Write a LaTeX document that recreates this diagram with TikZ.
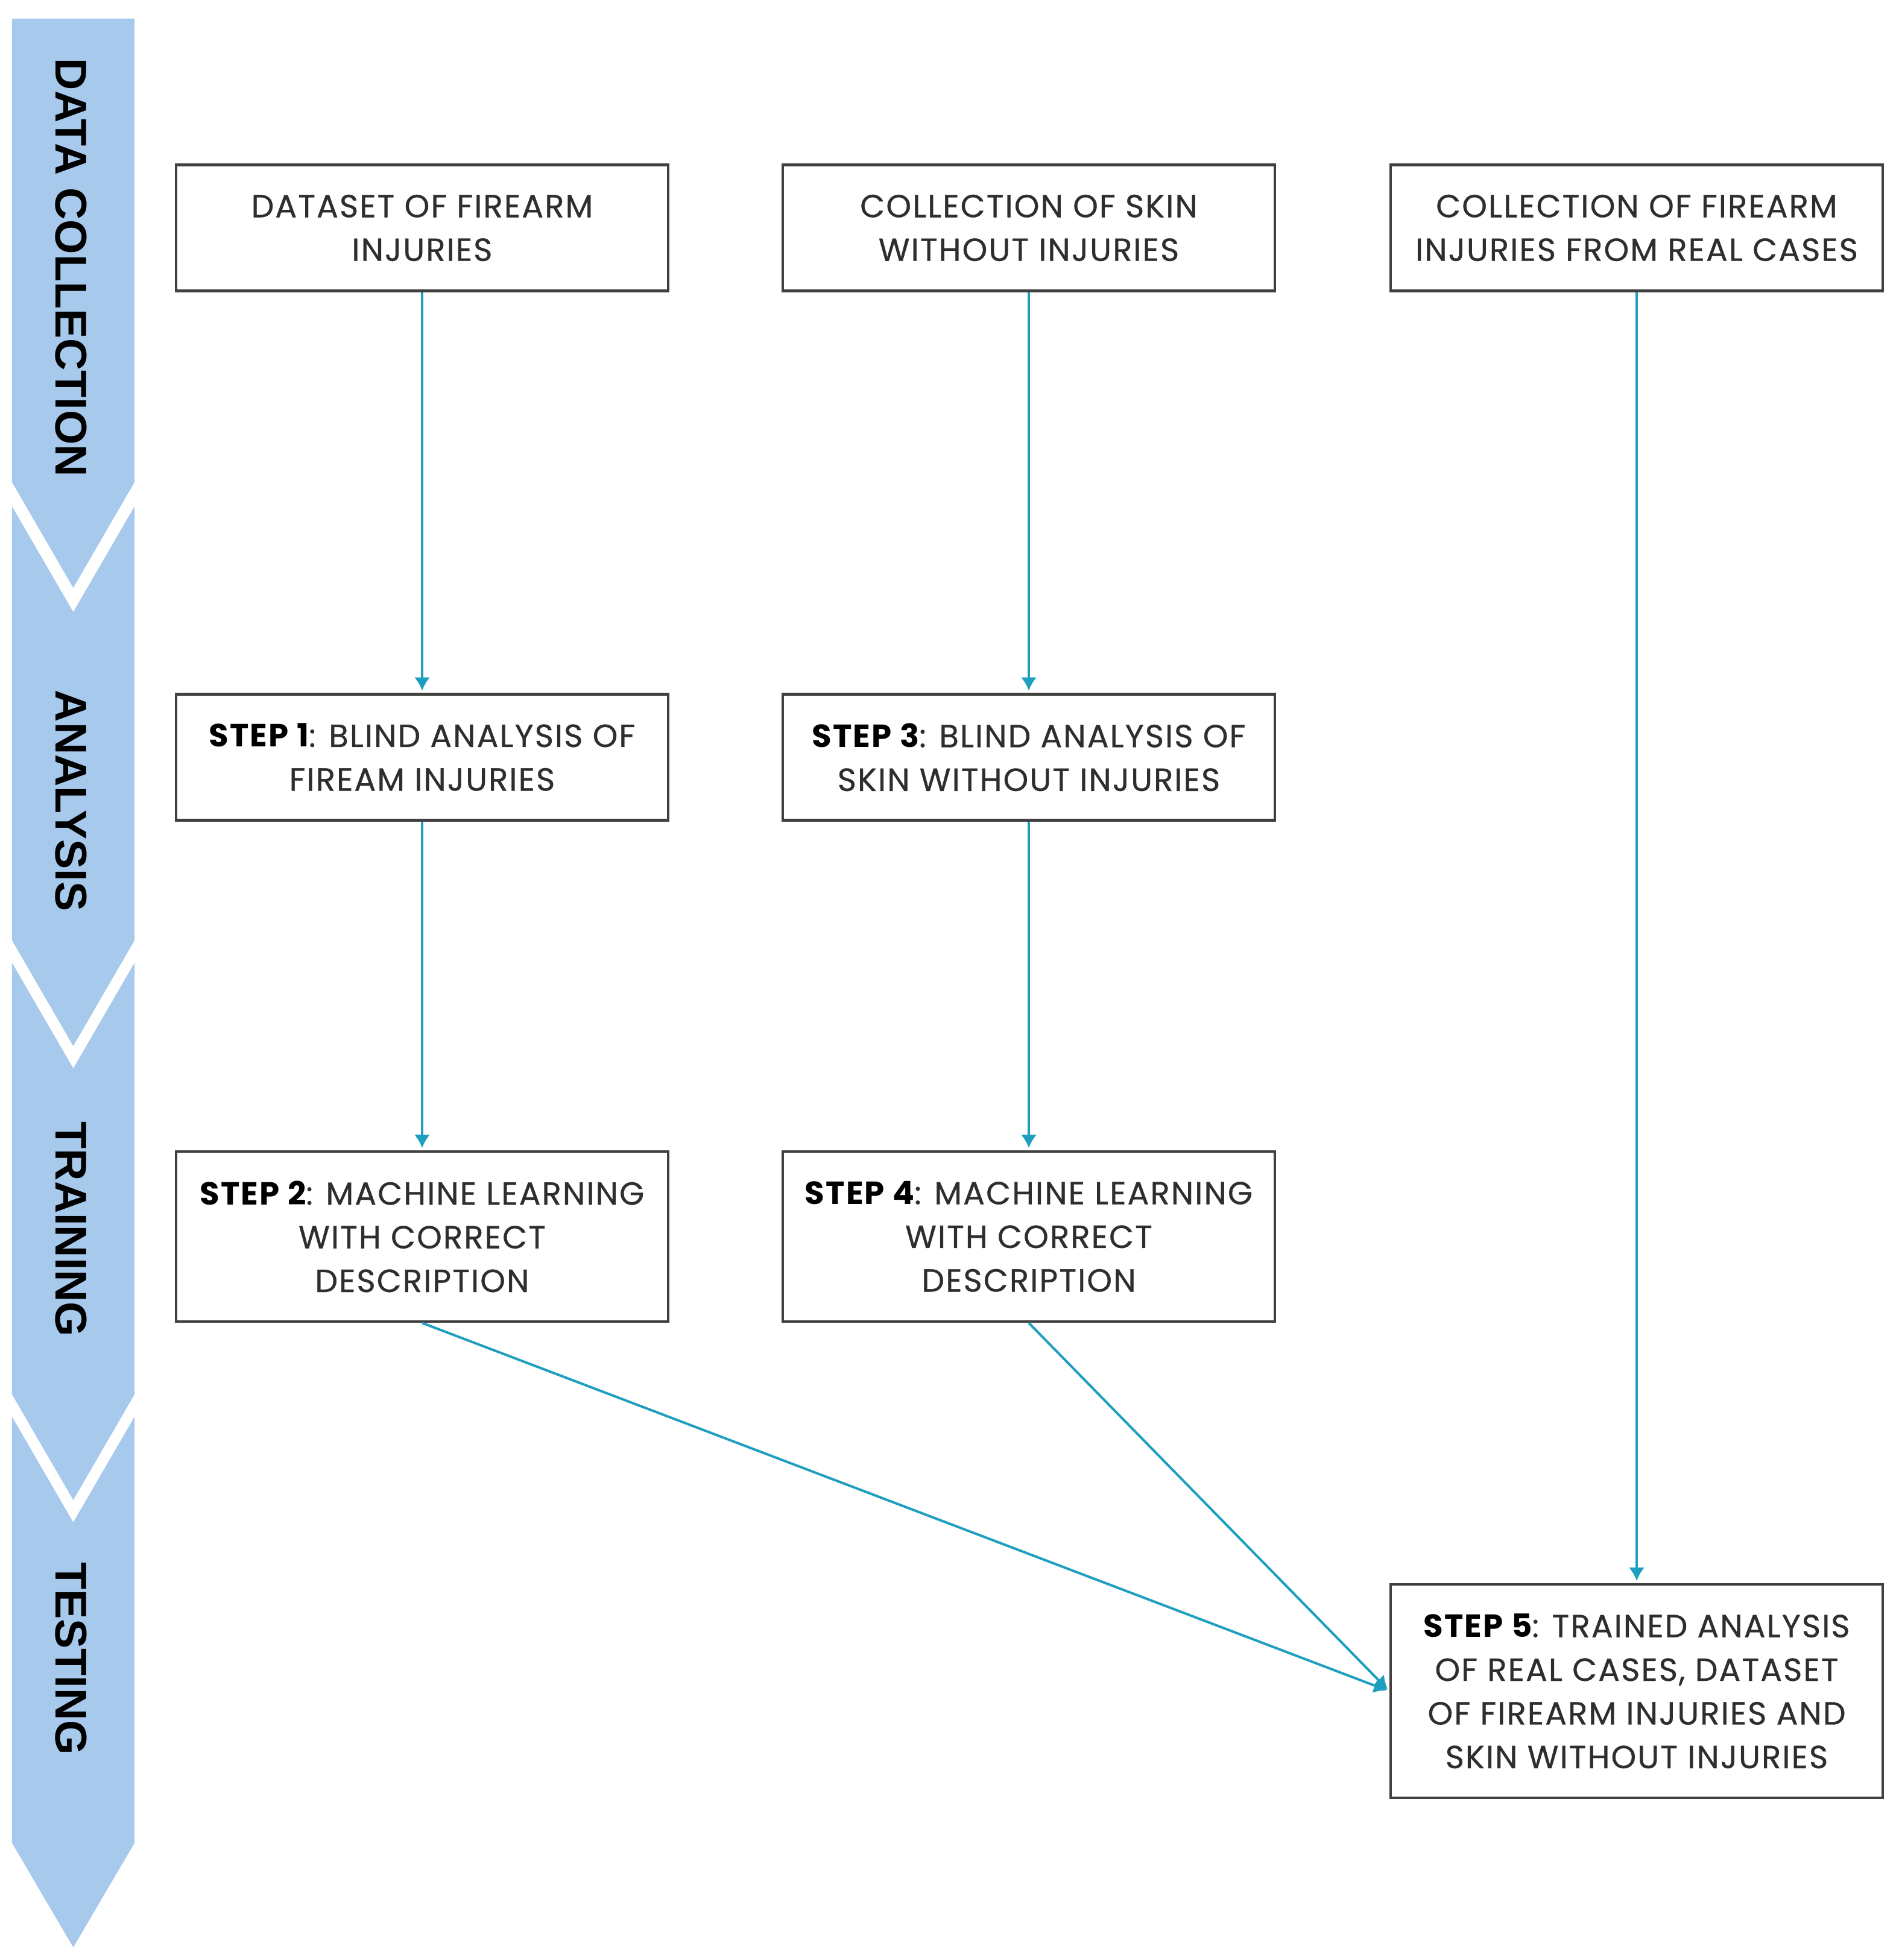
\documentclass[tikz,border=0pt]{standalone}
\usepackage{fontspec}
\setmainfont{Poppins}[LetterSpace=4.0, UprightFeatures={FakeBold=0.6}]
\newfontfamily\bandfont{Liberation Sans}
\usetikzlibrary{arrows.meta}

\definecolor{bandblue}{HTML}{A7C9EC}
\definecolor{arrteal}{HTML}{1E9FC0}
\newcommand{\steplbl}[1]{{\color{black}\bfseries STEP #1}}

\begin{document}
\begin{tikzpicture}[
    font=\fontsize{15.1}{20.6}\selectfont,
    sbase/.style = {draw=black!75, line width=1.3pt, rectangle, fill=white,
                    align=center, text=black!82, minimum width=8.16cm,
                    inner sep=2pt},
    sbox/.style  = {sbase, minimum height=2.09cm},
    sbox3/.style = {sbase, minimum height=2.82cm},
    sbox4/.style = {sbase, minimum height=3.54cm},
    phase/.style = {rotate=-90, text=black,
                    font=\bandfont\bfseries\fontsize{21}{21}\selectfont},
    arr/.style   = {-{Latex[length=2.2mm,width=2.6mm]}, line width=1.15pt,
                    draw=arrteal, shorten >=1pt},
  ]
  \useasboundingbox (0,0) rectangle (31.48,-32.51);

  % phase band on the left
  \fill[bandblue] (0.20,-0.31) -- (2.23,-0.31) -- (2.23,-8.00)
    -- (1.215,-9.75) -- (0.20,-8.00) -- cycle;
  \fill[bandblue] (0.20,-8.40) -- (1.215,-10.15) -- (2.23,-8.40)
    -- (2.23,-15.60) -- (1.215,-17.35) -- (0.20,-15.60) -- cycle;
  \fill[bandblue] (0.20,-15.97) -- (1.215,-17.72) -- (2.23,-15.97)
    -- (2.23,-23.13) -- (1.215,-24.88) -- (0.20,-23.13) -- cycle;
  \fill[bandblue] (0.20,-23.50) -- (1.215,-25.25) -- (2.23,-23.50)
    -- (2.23,-30.57) -- (1.215,-32.30) -- (0.20,-30.57) -- cycle;

  \node[phase] (P1) at (1.18cm, -4.44cm) {DATA COLLECTION};
  \node[phase] (P2) at (1.18cm, -13.28cm) {ANALYSIS};
  \node[phase] (P3) at (1.18cm, -20.39cm) {TRAINING};
  \node[phase] (P4) at (1.18cm, -27.51cm) {TESTING};

  \node[sbox] (D1) at (7.00cm, -3.78cm) {DATASET OF FIREARM\\INJURIES};
  \node[sbox] (D2) at (17.06cm, -3.78cm) {COLLECTION OF SKIN\\WITHOUT INJURIES};
  \node[sbox] (D3) at (27.14cm, -3.78cm) {COLLECTION OF FIREARM\\INJURIES FROM REAL CASES};
  \node[sbox] (S1) at (7.00cm, -12.56cm) {\steplbl{1}: BLIND ANALYSIS OF\\FIREAM INJURIES};
  \node[sbox] (S3) at (17.06cm, -12.56cm) {\steplbl{3}: BLIND ANALYSIS OF\\SKIN WITHOUT INJURIES};
  \node[sbox3] (S2) at (7.00cm, -20.51cm) {\steplbl{2}: MACHINE LEARNING\\WITH CORRECT\\DESCRIPTION};
  \node[sbox3] (S4) at (17.06cm, -20.51cm) {\steplbl{4}: MACHINE LEARNING\\WITH CORRECT\\DESCRIPTION};
  \node[sbox4] (S5) at (27.14cm, -28.05cm) {\steplbl{5}: TRAINED ANALYSIS\\OF REAL CASES, DATASET\\OF FIREARM INJURIES AND\\SKIN WITHOUT INJURIES};

  \draw[arr] (D1) -- (S1);
  \draw[arr] (S1) -- (S2);
  \draw[arr] (D2) -- (S3);
  \draw[arr] (S3) -- (S4);
  \draw[arr] (D3) -- (S5);
  \draw[arr] (S2.south) -- (S5.west);
  \draw[arr] (S4.south) -- (S5.west);

\end{tikzpicture}
\end{document}
